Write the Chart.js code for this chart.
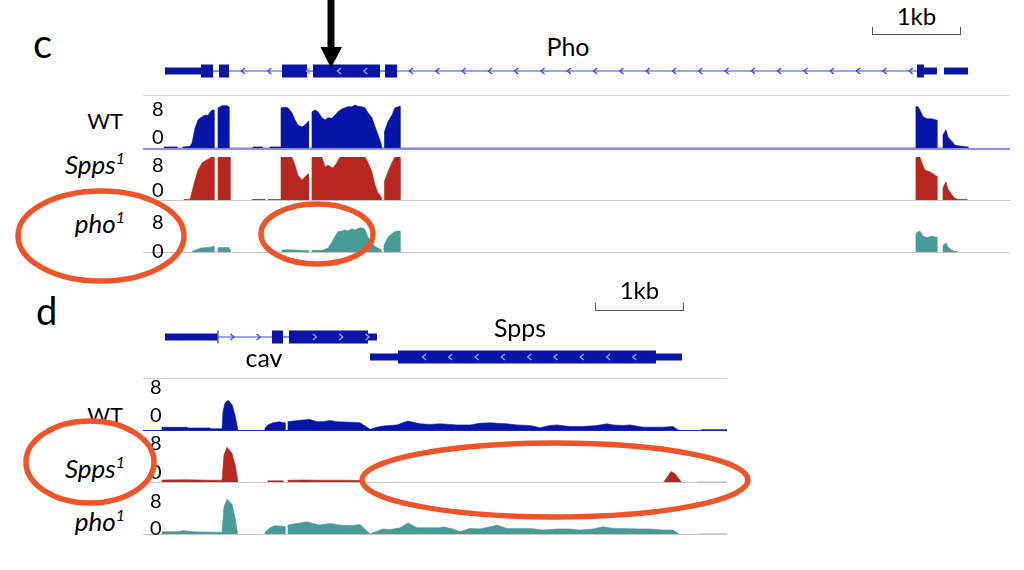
<!DOCTYPE html>
<html><head><meta charset="utf-8">
<script src="https://cdn.jsdelivr.net/npm/chart.js@4.4.1/dist/chart.umd.min.js"></script>
<style>
html,body{margin:0;padding:0;background:#fff;}
#root{position:relative;width:1024px;height:570px;overflow:hidden;font-family:Lato,"Open Sans",sans-serif;color:#000;}
.t{position:absolute;white-space:nowrap;line-height:1;}
.t sup{font-size:16px;line-height:1;vertical-align:baseline;position:relative;top:-10px;font-style:italic;}
.ln{position:absolute;height:0;}
svg{position:absolute;left:0;top:0;}
</style></head><body><div id="root"></div>
<script>
// ---------------- DATA ----------------
const panelLetters = ['c', 'd'];
const geneNames = ['Pho', 'cav', 'Spps'];
const trackNames = ['WT', 'Spps', 'pho'];
const trackSups = ['', '1', '1'];
const tickLabels = ['8', '0'];
const yRange = [0, 8];
const scaleBarKb = 1;
const scaleBarLabel = '1kb';
const cRangeKb = [0, 9.742];
const dRangeKb = [0, 6.562];

// gene models (kb): [start, end, kind]
const phoBlocks = [[0.247,0.652,'utr'],[0.652,0.787,'cds'],[0.854,0.966,'cds'],[1.562,1.843,'cds'],[1.910,2.663,'cds'],[2.719,2.854,'cds'],[8.697,8.775,'cds'],[8.775,8.921,'utr'],[9.000,9.270,'utr']];
const phoIntrons = [[0.787,0.854],[0.966,1.562],[1.843,1.910],[2.663,2.719],[2.854,8.697]];
const cavBlocks = [[0.247,0.836,'utr'],[0.836,0.848,'cds'],[1.449,1.573,'cds'],[1.640,2.528,'cds'],[2.528,2.629,'utr']];
const cavIntrons = [[0.848,1.449],[1.573,1.640]];
const sppsBlocks = [[2.551,2.865,'utr'],[2.865,5.764,'cds'],[5.764,6.056,'utr']];
const sppsIntrons = [];

// coverage, panel c (Pho locus): [kb, depth]
const cWT = [[0.236,0],[0.236,0.2],[0.382,0.2],[0.382,0],[0.449,0],[0.449,0.2],[0.528,0.3],[0.551,0.9],[0.584,3.6],[0.618,5.1],[0.629,5.3],[0.697,6.0],[0.730,5.9],[0.753,6.5],[0.775,6.9],[0.798,6.9],[0.798,0],[0.843,0],[0.843,7.3],[0.888,7.7],[0.944,7.7],[0.966,7.5],[0.966,0],
 [1.236,0],[1.236,0.2],[1.337,0.2],[1.337,0],[1.427,0],[1.427,0.2],[1.551,0.2],[1.551,7.3],[1.596,7.4],[1.629,7.3],[1.674,6.4],[1.708,5.1],[1.742,4.2],[1.787,3.8],[1.820,4.2],[1.854,4.8],[1.860,4.8],[1.860,0],[1.899,0],[1.899,6.6],[1.933,6.9],[1.966,6.6],[2.011,5.5],[2.045,5.1],[2.079,5.5],[2.124,5.4],[2.157,6.0],[2.191,6.6],[2.236,7.1],[2.270,7.3],[2.303,7.5],[2.348,7.5],[2.382,7.8],[2.416,7.6],[2.461,7.5],[2.494,7.3],[2.528,6.4],[2.573,5.5],[2.607,3.9],[2.640,2.4],[2.674,0.9],[2.685,0],[2.708,0],[2.708,2.5],[2.719,3.0],[2.753,4.8],[2.798,6.0],[2.831,7.3],[2.865,7.5],[2.888,7.6],[2.888,0],
 [8.685,0],[8.685,7.5],[8.708,7.5],[8.730,6.9],[8.764,5.7],[8.809,5.3],[8.865,5.3],[8.910,5.1],[8.921,5.1],[8.921,0],[8.989,0],[8.989,2.4],[9.022,3.3],[9.045,2.0],[9.090,1.2],[9.124,0.5],[9.202,0.3],[9.270,0.2],[9.270,0]];
const cSpps = [[0.461,0],[0.461,0.3],[0.528,0.3],[0.551,1.7],[0.584,3.8],[0.618,5.6],[0.663,6.9],[0.697,7.3],[0.730,7.6],[0.775,8],[0.798,8],[0.798,0],[0.843,0],[0.843,8],[0.978,8],[0.978,0],
 [1.225,0],[1.225,0.3],[1.371,0.3],[1.371,0],[1.404,0],[1.404,0.3],[1.551,0.3],[1.551,8],[1.674,8],[1.708,6.5],[1.742,4.7],[1.787,3.8],[1.820,4.4],[1.854,4.9],[1.860,4.9],[1.860,0],[1.899,0],[1.899,8],[2.011,8],[2.045,6.2],[2.079,6.5],[2.135,6.0],[2.180,7.0],[2.213,8],[2.494,8],[2.528,7.0],[2.573,5.3],[2.607,2.9],[2.640,1.5],[2.674,0.8],[2.685,0],[2.708,0],[2.708,2.5],[2.719,3.6],[2.753,5.3],[2.798,7.0],[2.831,8],[2.888,8],[2.888,0],
 [8.685,0],[8.685,8],[8.730,8],[8.753,6.9],[8.787,5.6],[8.843,5.3],[8.899,4.7],[8.921,4.5],[8.921,0],[8.989,0],[8.989,2.4],[9.022,3.5],[9.045,2.2],[9.090,1.1],[9.124,0.5],[9.157,0.3],[9.258,0.3],[9.258,0]];
const cPho = [[0.551,0],[0.551,0.3],[0.584,0.5],[0.652,0.9],[0.730,1.0],[0.787,1.2],[0.798,1.2],[0.798,0],[0.843,0],[0.843,1.0],[0.966,1.0],[0.978,0.7],[0.978,0],
 [1.562,0],[1.562,0.55],[1.629,0.6],[1.820,0.45],[1.860,0.45],[1.860,0],[1.899,0],[1.899,0.5],[2.022,0.5],[2.079,0.9],[2.124,2.0],[2.157,3.0],[2.191,3.9],[2.236,4.0],[2.270,4.2],[2.303,4.0],[2.348,4.4],[2.382,4.2],[2.416,4.5],[2.461,4.6],[2.494,4.3],[2.528,2.9],[2.573,1.8],[2.607,1.2],[2.640,0.9],[2.674,0.6],[2.685,0],[2.708,0],[2.708,1.4],[2.753,2.9],[2.798,3.5],[2.831,3.9],[2.865,4.0],[2.888,4.0],[2.888,0],
 [8.685,0],[8.685,3.6],[8.730,4.0],[8.764,3.1],[8.809,2.8],[8.865,3.1],[8.899,2.9],[8.921,2.9],[8.921,0],[8.989,0],[8.989,1.4],[9.022,1.8],[9.045,1.1],[9.090,0.5],[9.124,0.3],[9.157,0.2],[9.157,0]];

// coverage, panel d (cav / Spps locus)
const dWT = [[0.213,0],[0.213,0.67],[0.494,0.67],[0.494,0.55],[0.753,0.55],[0.753,0.4],[0.888,0.4],[0.899,3.5],[0.921,5.1],[0.955,5.6],[1.000,4.8],[1.034,2.9],[1.056,1.1],[1.067,0],
 [1.371,0],[1.371,0.5],[1.404,1.1],[1.461,1.5],[1.539,1.7],[1.573,1.5],[1.596,1.5],[1.596,0],[1.629,0],[1.629,1.7],[1.685,1.8],[1.798,2.0],[1.876,2.1],[1.955,1.7],[2.022,1.7],[2.101,1.9],[2.180,1.7],[2.326,1.6],[2.438,1.5],[2.517,0.7],[2.551,0.3],[2.629,0.7],[2.697,0.9],[2.775,1.0],[2.854,1.1],[2.921,1.5],[2.978,1.8],[3.034,1.6],[3.112,1.3],[3.225,1.2],[3.337,1.3],[3.449,1.2],[3.528,1.1],[3.674,1.1],[3.787,1.4],[3.899,1.5],[3.978,1.4],[4.090,1.3],[4.202,1.1],[4.348,1.0],[4.461,0.6],[4.573,1.0],[4.652,1.1],[4.798,0.8],[4.944,0.8],[5.101,1.0],[5.213,1.3],[5.281,1.1],[5.393,1.0],[5.472,1.1],[5.618,0.7],[5.843,0.7],[5.955,0.8],[6.011,0.2],[6.034,0.1],[6.258,0.1],[6.281,0.25],[6.562,0.25],[6.562,0]];
const dSpps = [[0.213,0],[0.213,0.55],[0.494,0.6],[0.753,0.5],[0.888,0.5],[0.910,5.1],[0.944,6.5],[1.000,5.4],[1.034,3.3],[1.056,1.4],[1.067,0],
 [1.404,0],[1.404,0.4],[1.573,0.4],[1.573,0],[1.629,0],[1.629,0.5],[1.798,0.55],[2.000,0.5],[2.236,0.5],[2.461,0.45],[2.461,0],
 [5.843,0],[5.888,1.0],[5.933,2.1],[5.978,1.7],[6.034,0.5],[6.056,0],
 [6.225,0],[6.225,0.15],[6.562,0.15],[6.562,0]];
const dPho = [[0.213,0],[0.213,0.6],[0.382,0.6],[0.449,0.8],[0.562,0.6],[0.674,0.55],[0.831,0.5],[0.888,0.5],[0.910,5.1],[0.944,6.5],[1.000,5.6],[1.034,3.2],[1.056,0.8],[1.067,0],
 [1.371,0],[1.371,0.5],[1.427,1.3],[1.483,1.7],[1.562,1.6],[1.596,1.5],[1.596,0],[1.629,0],[1.629,1.8],[1.730,2.1],[1.843,2.4],[1.910,2.1],[1.989,1.8],[2.101,2.1],[2.213,1.8],[2.326,1.7],[2.438,1.9],[2.517,0.7],[2.551,0.2],[2.629,0.7],[2.697,1.1],[2.775,1.0],[2.888,1.3],[2.978,2.2],[3.079,1.3],[3.191,1.3],[3.337,1.3],[3.371,1.5],[3.483,1.1],[3.562,0.6],[3.674,1.2],[3.787,1.1],[3.899,1.5],[3.978,1.8],[4.090,1.2],[4.202,1.2],[4.348,1.2],[4.494,0.9],[4.652,1.1],[4.798,1.1],[4.910,0.9],[5.056,1.1],[5.169,1.5],[5.281,1.2],[5.393,1.2],[5.551,1.1],[5.697,1.1],[5.843,0.9],[5.955,0.9],[6.011,0.3],[6.034,0],
 [6.258,0],[6.258,0.2],[6.562,0.2],[6.562,0]];

// ---------------- STYLE / LAYOUT ----------------
const COLORS = {WT:'#0714a8', Spps:'#b8271f', pho:'#469a98', exon:'#0a14a8', intron:'#3c48e6', chevIn:'#9aa0ee', ellipse:'#ee5428'};
const root = document.getElementById('root');

function canvasAt(l,t,w,h){
  const c=document.createElement('canvas'); c.width=w; c.height=h;
  c.style.cssText=`position:absolute;left:${l}px;top:${t}px;width:${w}px;height:${h}px`;
  root.appendChild(c); return c;
}
function hline(l,t,w,color,th){
  const d=document.createElement('div'); d.className='ln';
  d.style.cssText=`left:${l}px;top:${t - th/2}px;width:${w}px;border-top:${th}px solid ${color}`;
  root.appendChild(d);
}
function text(html,{left,right,center,baseline,size,italic,color}){
  const d=document.createElement('div'); d.className='t'; d.innerHTML=html;
  d.style.fontSize=size+'px'; d.style.top=(baseline-0.887*size)+'px';
  if(italic) d.style.fontStyle='italic';
  if(color) d.style.color=color;
  if(left!==undefined) d.style.left=left+'px';
  if(right!==undefined){ d.style.right=(1024-right)+'px'; d.style.textAlign='right'; }
  if(center!==undefined){ d.style.left=(center-150)+'px'; d.style.width='300px'; d.style.textAlign='center'; }
  root.appendChild(d); return d;
}

const baseOpts = (xr, yr, padTop) => ({
  responsive:false, animation:false, events:[],
  layout:{padding:{top:padTop,left:0,right:0,bottom:0}},
  plugins:{legend:{display:false}, tooltip:{enabled:false}},
  scales:{x:{type:'linear',min:xr[0],max:xr[1],display:false}, y:{type:'linear',min:yr[0],max:yr[1],display:false}}
});

function coverage(l,t,w,h,xr,data,color){
  const cfg = {type:'line',
    data:{datasets:[{data:data.map(p=>({x:p[0],y:p[1]})), fill:'origin', backgroundColor:color, borderColor:color, borderWidth:0.6, pointRadius:0, tension:0}]},
    options: baseOpts(xr, yRange, 8)};
  return new Chart(canvasAt(l,t,w,h), cfg);
}

function chevron(ctx,p,yc,strand,color){
  ctx.strokeStyle=color; ctx.lineWidth=1.4; ctx.beginPath();
  if(strand==='-'){ ctx.moveTo(p+2,yc-3); ctx.lineTo(p-1.5,yc); ctx.lineTo(p+2,yc+3); }
  else { ctx.moveTo(p-2,yc-3); ctx.lineTo(p+1.5,yc); ctx.lineTo(p-2,yc+3); }
  ctx.stroke();
}
const genePlugin = {
  id:'genes',
  afterDatasetsDraw(chart, args, opts){
    const {ctx} = chart; const xs = chart.scales.x, ys = chart.scales.y;
    (opts.genes||[]).forEach(g=>{
      const yc = ys.getPixelForValue(g.row);
      ctx.save();
      g.introns.forEach(([a,b])=>{
        const x1=xs.getPixelForValue(a), x2=xs.getPixelForValue(b);
        ctx.strokeStyle=COLORS.intron; ctx.lineWidth=1.2; ctx.beginPath(); ctx.moveTo(x1,yc); ctx.lineTo(x2,yc); ctx.stroke();
        for(let p=x1+14;p<x2-6;p+=26.3) chevron(ctx,p,yc,g.strand,COLORS.intron);
      });
      g.blocks.forEach(([a,b,kind])=>{
        const x1=xs.getPixelForValue(a), x2=xs.getPixelForValue(b);
        const h = kind==='cds'?13:7;
        ctx.fillStyle=COLORS.exon; ctx.fillRect(x1,yc-h/2,Math.max(1,x2-x1),h);
      });
      g.blocks.forEach(([a,b,kind])=>{
        if(kind!=='cds') return;
        const x1=xs.getPixelForValue(a), x2=xs.getPixelForValue(b);
        for(let p=x1+26;p<=x2+1;p+=26.3) chevron(ctx,p,yc,g.strand,COLORS.chevIn);
      });
      ctx.restore();
    });
  }
};
function geneTrack(l,t,w,h,xr,yr,genes){
  const o = baseOpts(xr, yr, 0); o.scales.y.reverse = true; o.plugins.genes = {genes};
  return new Chart(canvasAt(l,t,w,h), {type:'scatter', data:{datasets:[]}, options:o, plugins:[genePlugin]});
}

// ---------------- PANEL C ----------------
const L = 143;
const cW = 867, dW = 584;
const gc = geneTrack(L,61,cW,20,cRangeKb,[0,1],[{row:0.5,strand:'-',blocks:phoBlocks,introns:phoIntrons}]);
hline(L,96,cW,'#d4d4dc',1.2);
coverage(L,96,cW,52,cRangeKb,cWT,COLORS.WT);
coverage(L,149,cW,52,cRangeKb,cSpps,COLORS.Spps);
coverage(L,201,cW,52,cRangeKb,cPho,COLORS.pho);
hline(L,148.5,cW,'#8b90de',2);
hline(L,201,cW,'#c6c6c6',1.5);
hline(L,253,cW,'#c6c6c6',1.5);

// ---------------- PANEL D ----------------
const gd = geneTrack(L,327,dW,40,dRangeKb,[0,2],[
  {row:0.5,strand:'+',blocks:cavBlocks,introns:cavIntrons},
  {row:1.5,strand:'-',blocks:sppsBlocks,introns:sppsIntrons}]);
hline(L,379,dW,'#cfcfcf',1.2);
coverage(L,379,dW,52,dRangeKb,dWT,COLORS.WT);
coverage(L,431,dW,52,dRangeKb,dSpps,COLORS.Spps);
coverage(L,483,dW,52,dRangeKb,dPho,COLORS.pho);
hline(L,431,dW,'#1a26b0',1.2);
hline(L,483,dW,'#c6c6c6',1.5);
hline(L,535,dW,'#c6c6c6',1.5);

// ---------------- TEXT ----------------
text(panelLetters[0],{left:33,baseline:58,size:40});
text(panelLetters[1],{left:36,baseline:325,size:38});
text(geneNames[0],{center:568,baseline:56,size:25});
text(geneNames[1],{center:264,baseline:367,size:25});
text(geneNames[2],{center:520,baseline:337,size:25});

function trackLabel(i,baseline){
  const html = trackSups[i] ? `<i>${trackNames[i]}<sup>${trackSups[i]}</sup></i>` : trackNames[i];
  text(html,{right: trackSups[i] ? 125 : 123, baseline, size: trackSups[i] ? 26 : 22});
}
trackLabel(0,130); trackLabel(1,174); trackLabel(2,233);
trackLabel(0,424); trackLabel(1,478); trackLabel(2,531);

[[115.5,143.5],[172,197],[228.5,258]].forEach(([b8,b0])=>{
  text(tickLabels[0],{left:152,baseline:b8,size:20});
  text(tickLabels[1],{left:152,baseline:b0,size:20});
});
[[394,422],[450,479],[508,535]].forEach(([b8,b0])=>{
  text(tickLabels[0],{left:150,baseline:b8,size:20});
  text(tickLabels[1],{left:150,baseline:b0,size:20});
});

// scale bars (length from the chart's own x scale)
function scaleBar(chart, x0, y, labelBaseline){
  const xs = chart.scales.x; const left = chart.canvas.offsetLeft;
  const px0 = left + xs.getPixelForValue(xs.getValueForPixel(x0-left));
  const pxLen = xs.getPixelForValue(scaleBarKb) - xs.getPixelForValue(0);
  const d=document.createElement('div');
  d.style.cssText=`position:absolute;left:${px0}px;top:${y-7}px;width:${pxLen-1.5}px;height:7px;border:1.5px solid #555;border-top:none;`;
  root.appendChild(d);
  text(scaleBarLabel,{center:px0+pxLen/2,baseline:labelBaseline,size:24});
}
scaleBar(gc, 872, 34, 25);
scaleBar(gd, 595, 310, 299);

// ---------------- ANNOTATIONS ----------------
const svgNS='http://www.w3.org/2000/svg';
const svg=document.createElementNS(svgNS,'svg'); svg.setAttribute('width','1024'); svg.setAttribute('height','570');
root.appendChild(svg);
[[101,236,83,45],[317,234,56,30],[90,462,64,41],[555,480,193,37]].forEach(([cx,cy,rx,ry])=>{
  const e=document.createElementNS(svgNS,'ellipse');
  e.setAttribute('cx',cx); e.setAttribute('cy',cy); e.setAttribute('rx',rx); e.setAttribute('ry',ry);
  e.setAttribute('fill','none'); e.setAttribute('stroke',COLORS.ellipse); e.setAttribute('stroke-width','5.5');
  svg.appendChild(e);
});
const arrow=document.createElementNS(svgNS,'path');
arrow.setAttribute('d','M327.5,0 L334.5,0 L334.5,47 L342,47 L331,68 L320.5,47 L327.5,47 Z');
arrow.setAttribute('fill','#000');
svg.appendChild(arrow);
</script>
</body></html>
